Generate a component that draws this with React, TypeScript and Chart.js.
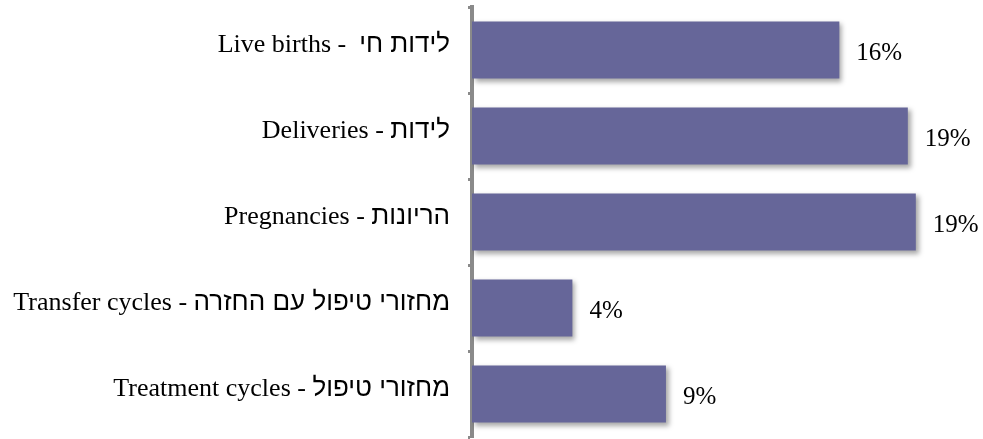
import React, { useEffect, useRef } from "react";
import { Chart, registerables } from "chart.js";

Chart.register(...registerables);

const categories = [
  "Live births -  לידות חי",
  "Deliveries - לידות",
  "Pregnancies - הריונות",
  "Transfer cycles - מחזורי טיפול עם החזרה",
  "Treatment cycles - מחזורי טיפול",
];
const values = [16.1, 19.1, 19.45, 4.4, 8.5];
const valueLabels = ["16%", "19%", "19%", "4%", "9%"];

const SERIF = "'Liberation Serif', 'Times New Roman', serif";
const SANS = "'Liberation Sans', Arial, sans-serif";

const shadowPlugin = {
  id: "barShadow",
  beforeDatasetDraw(chart: any) {
    const ctx = chart.ctx;
    ctx.save();
    ctx.shadowColor = "rgba(0,0,0,0.35)";
    ctx.shadowBlur = 5;
    ctx.shadowOffsetX = 3;
    ctx.shadowOffsetY = 3;
  },
  afterDatasetDraw(chart: any) {
    chart.ctx.restore();
  },
};

const labelPlugin = {
  id: "labels",
  afterDatasetsDraw(chart: any) {
    const ctx = chart.ctx;
    const meta = chart.getDatasetMeta(0);
    const yScale = chart.scales.y;
    ctx.save();
    ctx.fillStyle = "#000";
    ctx.textBaseline = "alphabetic";
    // value labels
    ctx.font = `25px ${SERIF}`;
    ctx.textAlign = "left";
    meta.data.forEach((bar: any, i: number) => {
      ctx.fillText(valueLabels[i], bar.x + 17, bar.y + 10);
    });
    // category labels: Latin part in serif, Hebrew part in sans
    const right = chart.chartArea.left - 22;
    categories.forEach((label, i) => {
      const y = yScale.getPixelForValue(i) + 2;
      const idx = label.search(/[\u0590-\u05FF]/);
      const latin = idx >= 0 ? label.slice(0, idx) : label;
      const heb = idx >= 0 ? label.slice(idx) : "";
      ctx.textAlign = "right";
      ctx.font = `26px ${SANS}`;
      const hw = heb ? ctx.measureText(heb).width : 0;
      if (heb) ctx.fillText(heb, right, y);
      ctx.font = `26px ${SERIF}`;
      ctx.fillText(latin, right - hw, y);
    });
    ctx.restore();
  },
};

export default function App() {
  const ref = useRef<HTMLCanvasElement | null>(null);
  useEffect(() => {
    if (!ref.current) return;
    const chart = new Chart(ref.current, {
      type: "bar",
      data: {
        labels: categories,
        datasets: [
          {
            data: values,
            backgroundColor: "#666699",
            borderWidth: 0,
            categoryPercentage: 1,
            barPercentage: 0.665,
          },
        ],
      },
      options: {
        indexAxis: "y",
        animation: false,
        responsive: false,
        maintainAspectRatio: false,
        layout: { padding: { top: 7, bottom: 2, left: 0, right: 9 } },
        plugins: { legend: { display: false }, tooltip: { enabled: false } },
        scales: {
          x: {
            display: false,
            min: 0,
            max: 22,
          },
          y: {
            afterFit(scale: any) {
              scale.width = 472;
              scale.paddingTop = 0;
              scale.paddingBottom = 0;
            },
            border: { display: true, color: "#8a8a8a", width: 4 },
            grid: {
              display: true,
              offset: true,
              drawOnChartArea: false,
              drawTicks: true,
              tickLength: 4,
              tickWidth: 3,
              color: "#8a8a8a",
            },
            ticks: {
              color: "rgba(0,0,0,0)",
              padding: 19,
              font: { family: SERIF, size: 26 },
            },
          },
        },
      },
      plugins: [shadowPlugin, labelPlugin],
    });
    return () => chart.destroy();
  }, []);
  return (
    <div style={{ position: "absolute", left: 0, top: 0, width: 983, height: 439, background: "#fff" }}>
      <canvas ref={ref} width={983} height={439} style={{ display: "block" }} />
    </div>
  );
}
